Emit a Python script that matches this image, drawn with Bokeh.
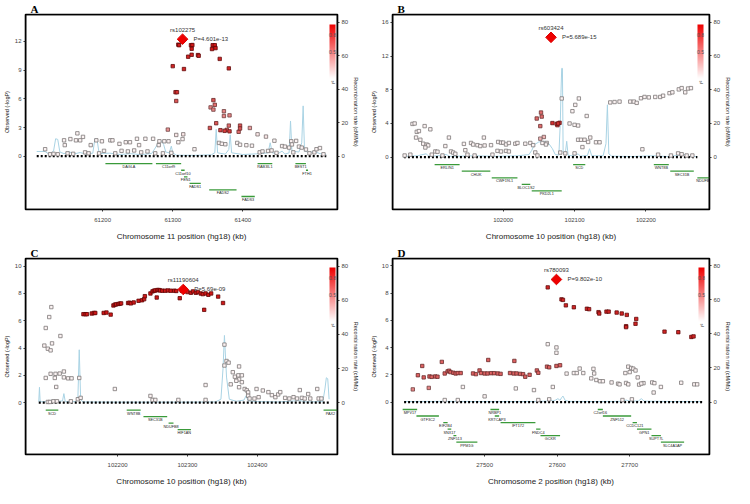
import math
from bokeh.plotting import figure
from bokeh.models import (Range1d, LinearAxis, FixedTicker, ColorBar, LinearColorMapper,
                          Label, PrintfTickFormatter, BoxAnnotation)
from bokeh.layouts import column, row
from bokeh.embed import file_html
from bokeh.resources import INLINE
from bokeh.core.properties import value

FONT = "Liberation Sans"
SERIF = "Liberation Serif"

# ======================= Panel A (chr 11) =======================
A_CHROM = "11"
A_INDEX = ("rs102275", 61314, 12.23, "P=4.601e-13")
A_XTICKS = [61200, 61300, 61400]
A_YTICKS = [0, 3, 6, 9, 12]
A_XRANGE = (61090, 61535)
A_YRANGE = (-5.57, 14.81)
A_RRANGE = (-31.8, 84.5)
# (position kb, -log10 P, r2)
A_SNPS = [
    (61308, 11.66, 0.95), (61309, 11.6, 0.95), (61326, 11.6, 0.95), (61328, 11.62, 0.95),
    (61327, 11.23, 0.95), (61356, 11.2, 0.95), (61357, 11.6, 0.95), (61360, 11.6, 0.95),
    (61361, 11.3, 0.95), (61322, 10.4, 0.9), (61327, 10.6, 0.9), (61336, 10.57, 0.9),
    (61337, 10.5, 0.9), (61367, 10.17, 0.9), (61300, 9.41, 0.9), (61316, 9.11, 0.9),
    (61380, 9.18, 0.9), (61304, 6.69, 0.85), (61306, 6.69, 0.85), (61305, 5.77, 0.7),
    (61358, 5.86, 0.7), (61360, 5.37, 0.6), (61354, 5.1, 0.5), (61358, 4.87, 0.5),
    (61373, 4.7, 0.5), (61381, 4.27, 0.5), (61373, 4.2, 0.5), (61362, 3.45, 0.7),
    (61353, 2.95, 0.7), (61368, 2.72, 0.75), (61374, 2.65, 0.8), (61377, 2.75, 0.7),
    (61381, 2.6, 0.8), (61380, 3.2, 0.6), (61396, 3.2, 0.7), (61396, 2.9, 0.7),
    (61394, 2.55, 0.6), (61410, 2.95, 0.4), (61293, 2.78, 0.45),
    (61118, 0.73, 0.05), (61125, 0.2, 0.05), (61130, 0.25, 0.05), (61136, 0.2, 0.05),
    (61145, 1.66, 0.05), (61146, 1.16, 0.05), (61150, 0.3, 0.05), (61154, 1.79, 0.05),
    (61158, 0.25, 0.05), (61162, 1.66, 0.05), (61164, 2.39, 0.05), (61168, 1.66, 0.05),
    (61172, 2.02, 0.05), (61175, 0.4, 0.05), (61180, 0.3, 0.05), (61183, 1.16, 0.05),
    (61191, 1.66, 0.05), (61195, 0.3, 0.05), (61199, 1.56, 0.05), (61202, 0.56, 0.05),
    (61211, 1.66, 0.05), (61214, 1.66, 0.05), (61218, 0.3, 0.05), (61224, 1.29, 0.05),
    (61227, 0.56, 0.05), (61233, 1.46, 0.05), (61236, 0.5, 0.05), (61239, 1.46, 0.05),
    (61245, 0.6, 0.05), (61249, 1.82, 0.05), (61252, 1.16, 0.05), (61255, 0.4, 0.05),
    (61261, 1.82, 0.05), (61264, 0.5, 0.05), (61272, 1.82, 0.05), (61275, 0.3, 0.05),
    (61280, 1.16, 0.05), (61281, 1.56, 0.05), (61286, 0.3, 0.05), (61288, 1.56, 0.05),
    (61294, 1.56, 0.05), (61298, 0.35, 0.05), (61305, 2.22, 0.1), (61308, 1.46, 0.05),
    (61314, 1.79, 0.05), (61315, 2.29, 0.1), (61331, 0.73, 0.05), (61366, 1.39, 0.05),
    (61370, 1.3, 0.05), (61375, 1.25, 0.05), (61392, 1.39, 0.05), (61396, 1.2, 0.05),
    (61405, 1.15, 0.05), (61413, 1.1, 0.05), (61421, 2.29, 0.1), (61424, 0.4, 0.05),
    (61428, 0.5, 0.05), (61433, 2.05, 0.1), (61436, 0.55, 0.05), (61441, 0.6, 0.05),
    (61445, 1.62, 0.05), (61448, 0.35, 0.05), (61456, 1.06, 0.05), (61460, 1.0, 0.05),
    (61466, 0.9, 0.05), (61469, 1.56, 0.05), (61470, 1.23, 0.05), (61472, 0.4, 0.05),
    (61476, 1.6, 0.05), (61480, 1.0, 0.05), (61484, 0.9, 0.05), (61490, 0.7, 0.05),
    (61495, 0.3, 0.05), (61502, 0.4, 0.05), (61505, 0.73, 0.05), (61510, 0.85, 0.05),
    (61515, 0.2, 0.05),
]
# (position kb, recombination rate cM/Mb)
A_RECOMB = [
    (61106, 2.8), (61118, 2.8), (61124, 1.0), (61130, 3.0), (61133, 10.4), (61136, 10.0),
    (61139, 2.5), (61145, 1.5), (61152, 2.6), (61160, 1.4), (61168, 2.2), (61176, 1.2),
    (61186, 1.8), (61189, 10.4), (61192, 10.2), (61195, 1.6), (61210, 1.8), (61225, 1.0),
    (61240, 1.5), (61255, 0.9), (61270, 1.6), (61276, 5.5), (61280, 8.5), (61284, 9.0),
    (61287, 7.0), (61290, 2.5), (61295, 2.0), (61298, 6.0), (61300, 2.0), (61305, 0.6),
    (61330, 0.5), (61355, 0.8), (61360, 2.0), (61362, 16.0), (61364, 2.0), (61375, 1.2),
    (61380, 4.0), (61382, 12.7), (61384, 2.0), (61400, 1.0), (61420, 1.4), (61436, 2.0),
    (61439, 8.0), (61442, 2.0), (61450, 1.5), (61456, 3.0), (61460, 1.2), (61466, 2.0),
    (61468, 21.0), (61470, 3.0), (61480, 2.5), (61484, 8.0), (61486, 30.0), (61488, 3.0),
    (61495, 2.2), (61502, 2.8), (61510, 1.5), (61519, 1.0),
]
# (gene, start kb, end kb, track row)
A_GENES = [
    ("DAGLA", 61204, 61271, 0), ("C11orf9", 61276, 61312, 0), ("C11orf10", 61312, 61317, 1),
    ("FEN1", 61316, 61321, 2), ("FADS1", 61324, 61340, 3), ("FADS2", 61352, 61391, 4),
    ("FADS3", 61398, 61417, 5), ("RAB3IL1", 61421, 61442, 0), ("BEST1", 61475, 61490, 0),
    ("FTH1", 61490, 61493, 1),
]

# ======================= Panel B (chr 10) =======================
B_CHROM = "10"
B_INDEX = ("rs603424", 102067, 14.23, "P=5.689e-15")
B_XTICKS = [102000, 102100, 102200]
B_YTICKS = [0, 4, 8, 12, 16]
B_XRANGE = (101845, 102289)
B_YRANGE = (-6.21, 16.94)
B_RRANGE = (-31.0, 84.5)
B_SNPS = [
    (102047, 4.59, 0.6), (102054, 4.82, 0.6), (102053, 5.3, 0.6), (102052, 3.69, 0.6),
    (102069, 4.05, 0.85), (102075, 3.95, 0.85), (102077, 4.0, 0.85), (102079, 4.08, 0.8),
    (102076, 3.8, 0.7), (102057, 2.4, 0.3), (102052, 2.2, 0.3),
    (101873, 3.95, 0.05), (101876, 4.0, 0.05), (101879, 3.01, 0.05), (101882, 3.1, 0.05),
    (101890, 3.69, 0.05), (101898, 3.31, 0.05), (101878, 2.33, 0.05), (101884, 2.07, 0.05),
    (101888, 1.6, 0.05), (101893, 1.5, 0.05), (101895, 1.4, 0.05), (101891, 1.15, 0.05),
    (101905, 0.68, 0.05), (101908, 0.65, 0.05), (101919, 1.32, 0.05), (101924, 2.33, 0.05),
    (101927, 0.68, 0.05), (101930, 0.55, 0.05), (101933, 0.4, 0.05), (101945, 1.58, 0.05),
    (101947, 0.83, 0.05), (101955, 1.69, 0.05), (101958, 1.5, 0.05), (101964, 1.43, 0.05),
    (101968, 1.32, 0.05), (101973, 2.33, 0.05), (101974, 1.39, 0.05), (101983, 1.43, 0.05),
    (101993, 1.81, 0.05), (101997, 1.73, 0.05), (102000, 1.73, 0.05), (102004, 1.51, 0.05),
    (102008, 1.69, 0.05), (101992, 0.75, 0.05), (101997, 0.68, 0.05), (102004, 0.75, 0.05),
    (102008, 0.68, 0.05), (102017, 1.6, 0.05), (102020, 1.69, 0.05), (102031, 1.6, 0.05),
    (102038, 1.69, 0.05), (102042, 1.43, 0.05), (102055, 1.69, 0.05), (102061, 1.69, 0.05),
    (102045, 0.56, 0.05), (102048, 0.2, 0.05), (102060, 1.51, 0.05), (102082, 6.97, 0.05),
    (102097, 5.46, 0.05), (102101, 6.21, 0.05), (102106, 6.97, 0.05), (102093, 4.0, 0.05),
    (102100, 3.84, 0.05), (102105, 3.76, 0.05), (102117, 4.89, 0.05), (102111, 1.2, 0.05),
    (102105, 2.07, 0.05), (102109, 2.07, 0.05), (102114, 2.07, 0.05), (102119, 1.81, 0.05),
    (102122, 2.33, 0.05), (102130, 1.77, 0.05), (102135, 1.77, 0.05), (102080, 0.55, 0.05),
    (102087, 0.45, 0.05), (102100, 0.45, 0.05), (102150, 6.5, 0.05), (102156, 6.55, 0.05),
    (102163, 6.6, 0.05), (102178, 6.6, 0.05), (102183, 6.6, 0.05), (102187, 6.45, 0.05),
    (102193, 7.0, 0.05), (102198, 7.15, 0.05), (102204, 7.1, 0.05), (102213, 7.15, 0.05),
    (102220, 7.15, 0.05), (102224, 7.3, 0.05), (102233, 7.6, 0.05), (102237, 7.7, 0.05),
    (102246, 8.05, 0.05), (102250, 8.2, 0.05), (102255, 7.7, 0.05), (102259, 8.15, 0.05),
    (102263, 8.2, 0.05), (101862, 0.2, 0.05), (101870, 0.3, 0.05), (101900, 0.3, 0.05),
    (101915, 0.2, 0.05), (101950, 0.3, 0.05), (101960, 0.2, 0.05), (101985, 0.3, 0.05),
    (102195, 0.94, 0.05), (102217, 0.3, 0.05), (102235, 0.2, 0.05), (102245, 0.45, 0.05),
    (102250, 0.35, 0.05), (102257, 0.2, 0.05), (102265, 0.2, 0.05),
]
B_RECOMB = [
    (101861, 0.5), (101880, 0.8), (101892, 2.0), (101896, 0.5), (101915, 1.0), (101920, 1.6),
    (101925, 0.5), (101960, 0.8), (101990, 0.5), (102020, 0.8), (102036, 1.5), (102040, 4.0),
    (102044, 7.5), (102050, 9.0), (102058, 9.4), (102064, 8.0), (102069, 5.0), (102073, 1.5),
    (102078, 1.2), (102080, 20.0), (102081, 38.5), (102082, 52.6), (102083, 52.6), (102084, 3.0),
    (102087, 2.0), (102089, 9.4), (102091, 1.0), (102100, 0.8), (102105, 2.0), (102108, 0.6),
    (102118, 1.0), (102121, 5.0), (102124, 0.8), (102140, 0.8), (102144, 8.0), (102146, 31.0),
    (102148, 2.0), (102152, 0.6), (102180, 0.4), (102210, 0.8), (102230, 0.4), (102255, 1.5),
    (102260, 0.5), (102272, 0.4),
]
B_GENES = [
    ("ERLIN1", 101904, 101939, 0), ("CHUK", 101942, 101982, 1), ("CWF19L1", 101984, 102020, 2),
    ("BLOC1S2", 102026, 102038, 3), ("PKD2L1", 102040, 102082, 4), ("SCD", 102098, 102115, 0),
    ("WNT8B", 102211, 102232, 0), ("SEC31B", 102234, 102267, 1), ("NDUFB8", 102272, 102290, 2),
]

# ======================= Panel C (chr 10) =======================
C_CHROM = "10"
C_INDEX = ("rs11190604", 102294, 8.29, "P=5.69e-09")
C_XTICKS = [102200, 102300, 102400]
C_YTICKS = [0, 2, 4, 6, 8, 10]
C_XRANGE = (102068, 102515)
C_YRANGE = (-3.80, 10.56)
C_RRANGE = (-30.4, 84.5)
C_SNPS = [
    (102151, 6.48, 0.95), (102154, 6.48, 0.95), (102156, 6.48, 0.95), (102163, 6.53, 0.95),
    (102166, 6.57, 0.95), (102168, 6.57, 0.95), (102180, 6.57, 0.95), (102184, 6.6, 0.95),
    (102190, 6.45, 0.95), (102194, 7.12, 0.95), (102196, 7.18, 0.95), (102198, 7.2, 0.95),
    (102201, 7.23, 0.95), (102203, 7.25, 0.95), (102205, 7.27, 0.95), (102215, 7.3, 0.95),
    (102217, 7.32, 0.95), (102219, 7.27, 0.95), (102223, 7.34, 0.95), (102230, 7.46, 0.95),
    (102235, 7.5, 0.95), (102238, 7.58, 0.95), (102239, 7.8, 0.95), (102247, 8.0, 0.95),
    (102250, 8.15, 0.95), (102252, 8.2, 0.95), (102254, 8.22, 0.95), (102257, 8.25, 0.95),
    (102259, 8.25, 0.95), (102261, 8.22, 0.95), (102264, 8.2, 0.95), (102268, 8.2, 0.95),
    (102272, 8.22, 0.95), (102276, 8.2, 0.95), (102281, 8.2, 0.95), (102284, 8.18, 0.95),
    (102256, 7.7, 0.95), (102289, 7.65, 0.95), (102292, 8.2, 0.95), (102296, 8.22, 0.95),
    (102300, 8.1, 0.95), (102305, 8.05, 0.95), (102308, 8.15, 0.95), (102312, 8.05, 0.95),
    (102315, 8.1, 0.95), (102319, 8.0, 0.95), (102322, 7.95, 0.95), (102326, 8.0, 0.95),
    (102330, 7.9, 0.95), (102334, 8.0, 0.95), (102344, 7.77, 0.95), (102351, 7.3, 0.95),
    (102324, 6.8, 0.95),
    (102105, 7.0, 0.05), (102102, 6.27, 0.05), (102097, 5.47, 0.05), (102118, 4.88, 0.05),
    (102095, 4.18, 0.05), (102100, 3.95, 0.05), (102104, 3.83, 0.05), (102106, 4.34, 0.05),
    (102104, 2.11, 0.05), (102111, 2.11, 0.05), (102117, 2.13, 0.05), (102123, 2.28, 0.05),
    (102097, 1.81, 0.05), (102110, 1.81, 0.05), (102123, 1.85, 0.05), (102129, 1.78, 0.05),
    (102134, 1.78, 0.05), (102112, 1.15, 0.05), (102145, 1.81, 0.05), (102196, 1.0, 0.05),
    (102100, 0.05, 0.05), (102103, 0.05, 0.05), (102108, 0.1, 0.05), (102113, 0.1, 0.05),
    (102133, 0.1, 0.05), (102143, 0.25, 0.05), (102147, 0.35, 0.05), (102247, 0.49, 0.05),
    (102250, 0.2, 0.05), (102254, 0.2, 0.05), (102287, 0.2, 0.05), (102326, 1.29, 0.05),
    (102326, 0.2, 0.05), (102353, 4.25, 0.05), (102353, 2.72, 0.05), (102356, 3.05, 0.05),
    (102359, 2.93, 0.05), (102365, 2.23, 0.05), (102374, 2.65, 0.05), (102368, 1.9, 0.05),
    (102373, 2.0, 0.05), (102378, 2.0, 0.05), (102374, 1.7, 0.05), (102370, 1.6, 0.05),
    (102378, 1.5, 0.05), (102362, 1.34, 0.05), (102374, 1.13, 0.05), (102382, 1.0, 0.05),
    (102385, 0.9, 0.05), (102387, 0.75, 0.05), (102387, 0.5, 0.05), (102389, 0.3, 0.05),
    (102399, 1.0, 0.05), (102396, 0.3, 0.05), (102402, 0.4, 0.05), (102408, 0.89, 0.05),
    (102416, 0.77, 0.05), (102421, 0.55, 0.05), (102426, 0.4, 0.05), (102430, 0.6, 0.05),
    (102433, 0.77, 0.05), (102440, 0.35, 0.05), (102446, 0.3, 0.05), (102452, 0.4, 0.05),
    (102457, 0.3, 0.05), (102461, 0.92, 0.05), (102464, 0.35, 0.05), (102468, 0.3, 0.05),
    (102473, 0.63, 0.05), (102476, 0.3, 0.05), (102486, 1.0, 0.05), (102488, 0.3, 0.05),
    (102492, 0.3, 0.05),
]
C_RECOMB = [
    (102087, 0.5), (102088, 9.0), (102089, 0.5), (102100, 0.6), (102105, 1.5), (102110, 0.5),
    (102121, 1.0), (102123, 5.3), (102125, 0.5), (102140, 0.6), (102143, 2.0), (102145, 31.0),
    (102147, 2.0), (102150, 0.4), (102200, 0.3), (102250, 0.3), (102300, 0.3), (102340, 0.4),
    (102348, 2.0), (102351, 20.0), (102353, 39.4), (102356, 15.0), (102360, 2.0), (102370, 0.8),
    (102381, 1.5), (102384, 4.0), (102387, 1.0), (102400, 0.6), (102430, 0.4), (102461, 1.2),
    (102470, 0.4), (102494, 0.6), (102497, 8.0), (102499, 14.6), (102501, 14.0), (102503, 2.0),
]
C_GENES = [
    ("SCD", 102097, 102115, 0), ("WNT8B", 102213, 102233, 0), ("SEC31B", 102237, 102271, 1),
    ("NDUFB8", 102273, 102280, 2), ("HIF1AN", 102286, 102305, 3), ("PAX2", 102495, 102515, 0),
]

# ======================= Panel D (chr 2) =======================
D_CHROM = "2"
D_INDEX = ("rs780093", 27599, 9.0, "P=9.802e-10")
D_XTICKS = [27500, 27600, 27700]
D_YTICKS = [0, 2, 4, 6, 8, 10]
D_XRANGE = (27373, 27810)
D_YRANGE = (-3.85, 10.54)
D_RRANGE = (-30.8, 84.3)
D_SNPS = [
    (27587, 8.42, 0.9), (27606, 7.54, 0.9), (27608, 7.5, 0.9), (27612, 7.1, 0.9),
    (27623, 6.96, 0.9), (27641, 6.85, 0.9), (27644, 6.82, 0.9), (27657, 6.6, 0.9),
    (27658, 6.5, 0.9), (27668, 6.64, 0.9), (27671, 6.64, 0.9), (27682, 6.57, 0.9),
    (27689, 6.5, 0.9), (27696, 6.4, 0.9), (27709, 6.1, 0.9), (27708, 5.75, 0.9),
    (27695, 5.57, 0.9), (27695, 5.5, 0.9), (27748, 5.17, 0.9), (27767, 5.13, 0.9),
    (27785, 4.78, 0.9), (27788, 4.82, 0.9),
    (27401, 0.93, 0.5), (27408, 1.97, 0.65), (27414, 2.65, 0.65), (27416, 1.81, 0.65),
    (27424, 1.88, 0.65), (27427, 1.85, 0.65), (27432, 1.88, 0.65), (27435, 1.86, 0.65),
    (27423, 1.04, 0.5), (27441, 2.95, 0.65), (27445, 2.1, 0.65), (27449, 2.25, 0.65),
    (27451, 2.3, 0.65), (27453, 2.2, 0.65), (27457, 2.15, 0.65), (27460, 2.1, 0.65),
    (27463, 2.13, 0.65), (27467, 2.13, 0.65), (27484, 2.1, 0.65), (27488, 2.05, 0.65),
    (27493, 2.32, 0.65), (27495, 2.13, 0.65), (27500, 2.1, 0.65), (27504, 2.1, 0.65),
    (27509, 2.12, 0.65), (27513, 2.12, 0.65), (27518, 2.1, 0.65), (27522, 2.07, 0.65),
    (27505, 3.09, 0.65), (27535, 2.13, 0.65), (27540, 2.1, 0.65), (27544, 2.1, 0.65),
    (27549, 2.07, 0.65), (27553, 2.05, 0.65), (27541, 3.02, 0.65), (27556, 1.86, 0.65),
    (27562, 2.0, 0.65), (27572, 2.32, 0.65), (27574, 2.15, 0.65), (27586, 2.6, 0.65),
    (27589, 2.55, 0.65), (27599, 2.65, 0.65), (27604, 2.7, 0.65),
    (27470, 1.11, 0.05), (27500, 0.42, 0.05), (27543, 1.0, 0.05), (27568, 0.88, 0.05),
    (27587, 4.25, 0.05), (27594, 1.11, 0.05), (27599, 4.01, 0.05), (27599, 3.62, 0.05),
    (27613, 2.09, 0.05), (27623, 2.13, 0.05), (27627, 2.13, 0.05), (27631, 2.46, 0.05),
    (27636, 2.13, 0.05), (27650, 2.44, 0.05), (27651, 2.1, 0.05), (27647, 1.74, 0.05),
    (27654, 1.62, 0.05), (27659, 1.53, 0.05), (27663, 1.53, 0.05), (27675, 1.44, 0.05),
    (27684, 1.35, 0.05), (27686, 1.3, 0.05), (27695, 1.4, 0.05), (27698, 1.3, 0.05),
    (27694, 2.13, 0.05), (27698, 2.6, 0.05), (27702, 2.5, 0.05), (27705, 2.45, 0.05),
    (27708, 2.32, 0.05), (27711, 1.81, 0.05), (27713, 1.28, 0.05), (27719, 1.39, 0.05),
    (27731, 1.44, 0.05), (27734, 1.39, 0.05), (27743, 1.11, 0.05), (27733, 0.7, 0.05),
    (27771, 1.42, 0.05), (27789, 1.3, 0.05), (27793, 1.3, 0.05), (27700, 2.2, 0.05),
    (27716, 1.36, 0.05), (27445, 0.15, 0.05), (27463, 0.15, 0.05), (27574, 0.15, 0.05),
    (27589, 0.2, 0.05), (27703, 0.2, 0.05), (27690, 0.15, 0.05),
]
D_RECOMB = [
    (27389, 0.3), (27450, 0.4), (27500, 0.3), (27560, 0.3), (27585, 0.5), (27590, 1.5),
    (27594, 0.6), (27598, 1.2), (27601, 2.0), (27604, 1.0), (27606, 2.5), (27608, 3.5),
    (27611, 1.0), (27616, 0.4), (27650, 0.3), (27690, 0.4), (27695, 1.2), (27700, 0.5),
    (27712, 0.6), (27716, 2.0), (27720, 0.5), (27760, 0.3), (27800, 0.3),
]
D_GENES = [
    ("MPV17", 27387, 27407, 0), ("GTF3C2", 27406, 27437, 1), ("EIF2B4", 27443, 27449, 2),
    ("SNX17", 27449, 27454, 3), ("ZNF513", 27457, 27461, 4), ("PPM1G", 27461, 27490, 5),
    ("NRBP1", 27508, 27520, 0), ("KRTCAP3", 27514, 27520, 1), ("IFT172", 27522, 27570, 2),
    ("FNDC4", 27571, 27577, 3), ("GCKR", 27577, 27604, 4), ("C2orf16", 27656, 27663, 0),
    ("ZNF512", 27663, 27702, 1), ("CCDC121", 27704, 27710, 2), ("GPN1", 27710, 27730, 3),
    ("SUPT7L", 27730, 27743, 4), ("SLC4A1AP", 27743, 27775, 5),
]

R2_TICKS = [0.8, 0.5]

# ======================= styling helpers =======================
WHITE = (255, 255, 255)
RED = (205, 12, 12)
GRAY = (125, 125, 125)
DARK = (95, 0, 0)


def mix(c0, c1, t):
    t = max(0.0, min(1.0, t))
    return "#%02x%02x%02x" % tuple(int(round(a + (b - a) * t)) for a, b in zip(c0, c1))


PALETTE = [mix(WHITE, (238, 0, 0), i / 255.0) for i in range(256)]


def style_axis(ax, label_size):
    ax.axis_line_color = None
    ax.major_tick_line_color = "#333333"
    ax.major_tick_in = 0
    ax.major_tick_out = 2
    ax.minor_tick_line_color = None
    ax.major_label_text_font = FONT
    ax.major_label_text_font_size = "6px"
    ax.major_label_text_color = "#444444"
    ax.major_label_standoff = 2
    ax.axis_label_text_font = FONT
    ax.axis_label_text_font_size = label_size
    ax.axis_label_text_font_style = "normal"
    ax.axis_label_text_color = "#222222"
    ax.axis_label_standoff = 2


def panel(letter, chrom, index, snps, recomb, genes, xr, yr, rr, xt, yt,
          width, height, borders):
    left, right, top, bottom = borders
    fw = width - left - right
    fh = height - top - bottom
    p = figure(width=width, height=height, x_range=Range1d(*xr), y_range=Range1d(*yr),
               output_backend="svg", toolbar_location=None,
               min_border_left=left, min_border_right=right,
               min_border_top=top, min_border_bottom=bottom)
    p.extra_y_ranges = {"rec": Range1d(*rr)}
    p.xgrid.visible = False
    p.ygrid.visible = False
    p.outline_line_color = "black"
    p.outline_line_width = 1.6
    p.background_fill_color = "white"
    p.border_fill_color = "white"

    # panel letter as the title
    p.title.text = letter
    p.title.text_font = SERIF
    p.title.text_font_style = "bold"
    p.title.text_font_size = "11px"
    p.title.text_color = "black"
    p.title.align = "left"
    p.title.offset = 5
    p.title.standoff = 0
    p.title.text_line_height = 1.0

    xa = p.xaxis[0]
    xa.ticker = FixedTicker(ticks=xt)
    xa.formatter = PrintfTickFormatter(format="%d")
    xa.axis_label = "Chromosome %s position (hg18) (kb)" % chrom
    style_axis(xa, "8px")
    xa.major_label_standoff = 6
    xa.axis_label_standoff = 7

    ya = p.yaxis[0]
    ya.ticker = FixedTicker(ticks=yt)
    ya.axis_label = "Observed (-logP)"
    style_axis(ya, "5.5px")

    ra = LinearAxis(y_range_name="rec", ticker=FixedTicker(ticks=[0, 20, 40, 60, 80]),
                    axis_label="Recombination rate (cM/Mb)")
    style_axis(ra, "5.5px")
    p.add_layout(ra, "right")

    # recombination rate line
    rx = [r[0] for r in recomb]
    ry = [r[1] for r in recomb]
    p.line(rx, ry, y_range_name="rec", line_color="#a9d3e4", line_width=1.0)

    # dotted zero line across the region
    p.line([min(rx), max(rx)], [0, 0], line_color="black", line_width=2.2, line_dash="2 2")

    # gene track
    upp = (yr[1] - yr[0]) / fh
    gnames = [g[0] for g in genes]
    gs = [g[1] for g in genes]
    ge = [g[2] for g in genes]
    gy = [-(7.5 + 6.6 * g[3]) * upp for g in genes]
    gm = [(a + b) / 2.0 for a, b in zip(gs, ge)]
    p.segment(x0=gs, x1=ge, y0=gy, y1=gy, line_color="#3a9a3a", line_width=1.3)
    p.text(x=gm, y=gy, text=gnames, text_font=value(FONT), text_font_size="3.8px",
           text_color="#222222", text_align="center", text_baseline="top", y_offset=1.5)

    # SNPs (low r2 first)
    s = sorted(snps, key=lambda t: t[2])
    sx = [t[0] for t in s]
    sy = [t[1] for t in s]
    fills = [mix(WHITE, RED, t[2]) for t in s]
    lines = [mix(GRAY, DARK, t[2]) for t in s]
    p.scatter(sx, sy, marker="square", size=3.4, fill_color=fills, line_color=lines,
              line_width=0.8)

    # index SNP (diamond = square rotated 45 degrees)
    name, ix, iy, ptxt = index
    p.scatter([ix], [iy], marker="square", angle=math.pi / 4, size=7.5,
              fill_color="#ee0000", line_color="#dd0000", line_width=1)
    p.text(x=[ix], y=[iy], text=[name], text_font=value(FONT), text_font_size="6px",
           text_color="#333333", text_align="center", text_baseline="bottom", y_offset=-6)
    p.text(x=[ix], y=[iy], text=[ptxt], text_font=value(FONT), text_font_size="6px",
           text_color="#333333", text_align="left", text_baseline="middle", x_offset=11)

    # frame border
    p.add_layout(BoxAnnotation(fill_alpha=0, line_color="black", line_width=1.6,
                               line_alpha=1))

    # r2 colour legend
    bw, bh = 6, 54
    bx = fw - 9 - bw
    by = fh - 11 - bh
    mapper = LinearColorMapper(palette=PALETTE, low=0, high=1)
    cb = ColorBar(color_mapper=mapper, location=(bx, by), width=bw, height=bh,
                  padding=0, margin=0, ticker=FixedTicker(ticks=[]),
                  major_tick_line_color=None, minor_tick_line_color=None,
                  major_label_text_font_size="0px", bar_line_color=None,
                  border_line_color=None, background_fill_alpha=0)
    p.add_layout(cb)
    for v in R2_TICKS:
        p.add_layout(Label(x=bx + bw / 2.0, y=by + v * bh, x_units="screen", y_units="screen",
                           text="%.1f" % v, text_font=FONT, text_font_size="5px",
                           text_color="#555555", text_align="center",
                           text_baseline="middle"))
    p.add_layout(Label(x=bx + bw / 2.0, y=by - 2, x_units="screen", y_units="screen",
                       text="r²", text_font=FONT, text_font_size="5px", text_color="#333333",
                       angle=math.pi / 2, text_align="right", text_baseline="middle"))
    return p


pA = panel("A", A_CHROM, A_INDEX, A_SNPS, A_RECOMB, A_GENES, A_XRANGE, A_YRANGE, A_RRANGE,
           A_XTICKS, A_YTICKS, 367, 244, (18, 30, 13, 35))
pB = panel("B", B_CHROM, B_INDEX, B_SNPS, B_RECOMB, B_GENES, B_XRANGE, B_YRANGE, B_RRANGE,
           B_XTICKS, B_YTICKS, 367, 244, (23, 24, 13, 35))
pC = panel("C", C_CHROM, C_INDEX, C_SNPS, C_RECOMB, C_GENES, C_XRANGE, C_YRANGE, C_RRANGE,
           C_XTICKS, C_YTICKS, 367, 244, (18, 30, 13, 33))
pD = panel("D", D_CHROM, D_INDEX, D_SNPS, D_RECOMB, D_GENES, D_XRANGE, D_YRANGE, D_RRANGE,
           D_XTICKS, D_YTICKS, 367, 244, (23, 23, 13, 33))

layout = column(row(pA, pB), row(pC, pD))

with open("out.html", "w") as f:
    f.write(file_html(layout, INLINE))
